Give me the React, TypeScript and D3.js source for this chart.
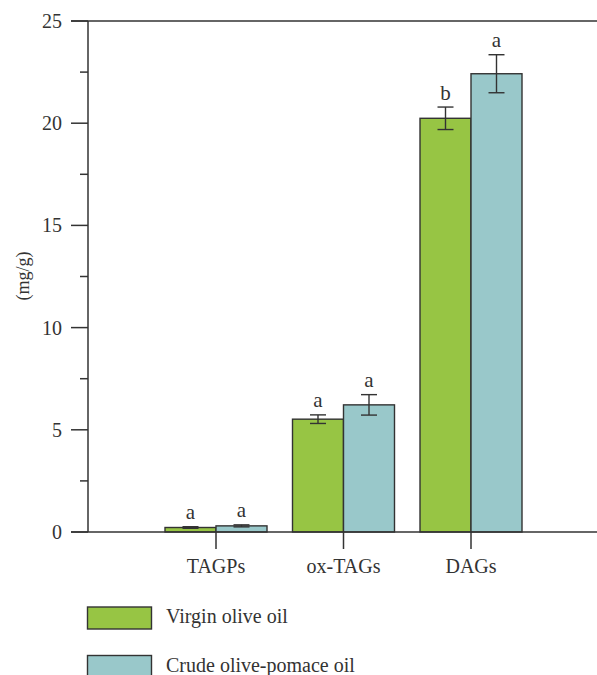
import React from "react";
import * as d3 from "d3";

const categories = ["TAGPs", "ox-TAGs", "DAGs"];
const seriesNames = ["Virgin olive oil", "Crude olive-pomace oil"];
const virginValues = [0.22, 5.52, 20.24];
const virginErrors = [0.04, 0.21, 0.55];
const virginLetters = ["a", "a", "b"];
const crudeValues = [0.3, 6.22, 22.42];
const crudeErrors = [0.05, 0.5, 0.93];
const crudeLetters = ["a", "a", "a"];
const yTicks = [0, 5, 10, 15, 20, 25];
const yMinorTicks = [2.5, 7.5, 12.5, 17.5, 22.5];
const colors = ["#97c544", "#99c8ca"];

const W = 597;
const H = 675;
const FONT = "'Liberation Serif', 'DejaVu Serif', serif";
const INK = "#333";

export default function App() {
  const y = d3.scaleLinear().domain([0, 25]).range([532, 21]);
  const x = d3.scalePoint().domain(categories).range([216, 471]);
  const centers = categories.map((c) => x(c) as number);
  const barW = 51;
  const series = [
    { values: virginValues, errors: virginErrors, letters: virginLetters },
    { values: crudeValues, errors: crudeErrors, letters: crudeLetters },
  ];

  return (
    <svg width={W} height={H} style={{ position: "absolute", left: 0, top: 0, background: "#fff" }} fontFamily={FONT}>
      {categories.map((c, i) =>
        series.map((s, k) => {
          const x0 = centers[i] + (k === 0 ? -barW : 0);
          const top = y(s.values[i]);
          const eTop = y(s.values[i] + s.errors[i]);
          const eBot = y(s.values[i] - s.errors[i]);
          const cx = x0 + barW / 2;
          return (
            <g key={c + k}>
              <rect x={x0} y={top} width={barW} height={y(0) - top} fill={colors[k]} stroke={INK} strokeWidth={1.4} />
              <line x1={cx} x2={cx} y1={eTop} y2={eBot} stroke={INK} strokeWidth={1.4} />
              <line x1={cx - 8} x2={cx + 8} y1={eTop} y2={eTop} stroke={INK} strokeWidth={1.4} />
              <line x1={cx - 8} x2={cx + 8} y1={eBot} y2={eBot} stroke={INK} strokeWidth={1.4} />
              <text x={cx} y={eTop - 7.5} textAnchor="middle" fontSize={21} fill={INK}>
                {s.letters[i]}
              </text>
            </g>
          );
        })
      )}
      <line x1={71} x2={597} y1={y(25)} y2={y(25)} stroke={INK} strokeWidth={1.5} />
      <line x1={71} x2={597} y1={y(0)} y2={y(0)} stroke={INK} strokeWidth={1.5} />
      <line x1={88} x2={88} y1={y(25)} y2={y(0)} stroke={INK} strokeWidth={1.5} />
      {yTicks.map((t) => (
        <g key={t}>
          <line x1={71} x2={88} y1={y(t)} y2={y(t)} stroke={INK} strokeWidth={1.5} />
          <text x={62} y={y(t)} dy="0.35em" textAnchor="end" fontSize={20} fill={INK}>
            {t}
          </text>
        </g>
      ))}
      {yMinorTicks.map((t) => (
        <line key={t} x1={80} x2={88} y1={y(t)} y2={y(t)} stroke={INK} strokeWidth={1.5} />
      ))}
      {categories.map((c, i) => (
        <g key={c}>
          <line x1={centers[i]} x2={centers[i]} y1={y(0)} y2={y(0) + 17} stroke={INK} strokeWidth={1.5} />
          <text x={centers[i]} y={573} textAnchor="middle" fontSize={20} fill={INK}>
            {c}
          </text>
        </g>
      ))}
      <text transform="translate(29,276) rotate(-90)" textAnchor="middle" fontSize={18} fill={INK}>
        (mg/g)
      </text>
      {seriesNames.map((n, k) => (
        <g key={n}>
          <rect x={87.5} y={607 + k * 48.5} width={64} height={22} fill={colors[k]} stroke={INK} strokeWidth={1.4} />
          <text x={166} y={622.5 + k * 49.5} fontSize={20} fill={INK}>
            {n}
          </text>
        </g>
      ))}
    </svg>
  );
}
